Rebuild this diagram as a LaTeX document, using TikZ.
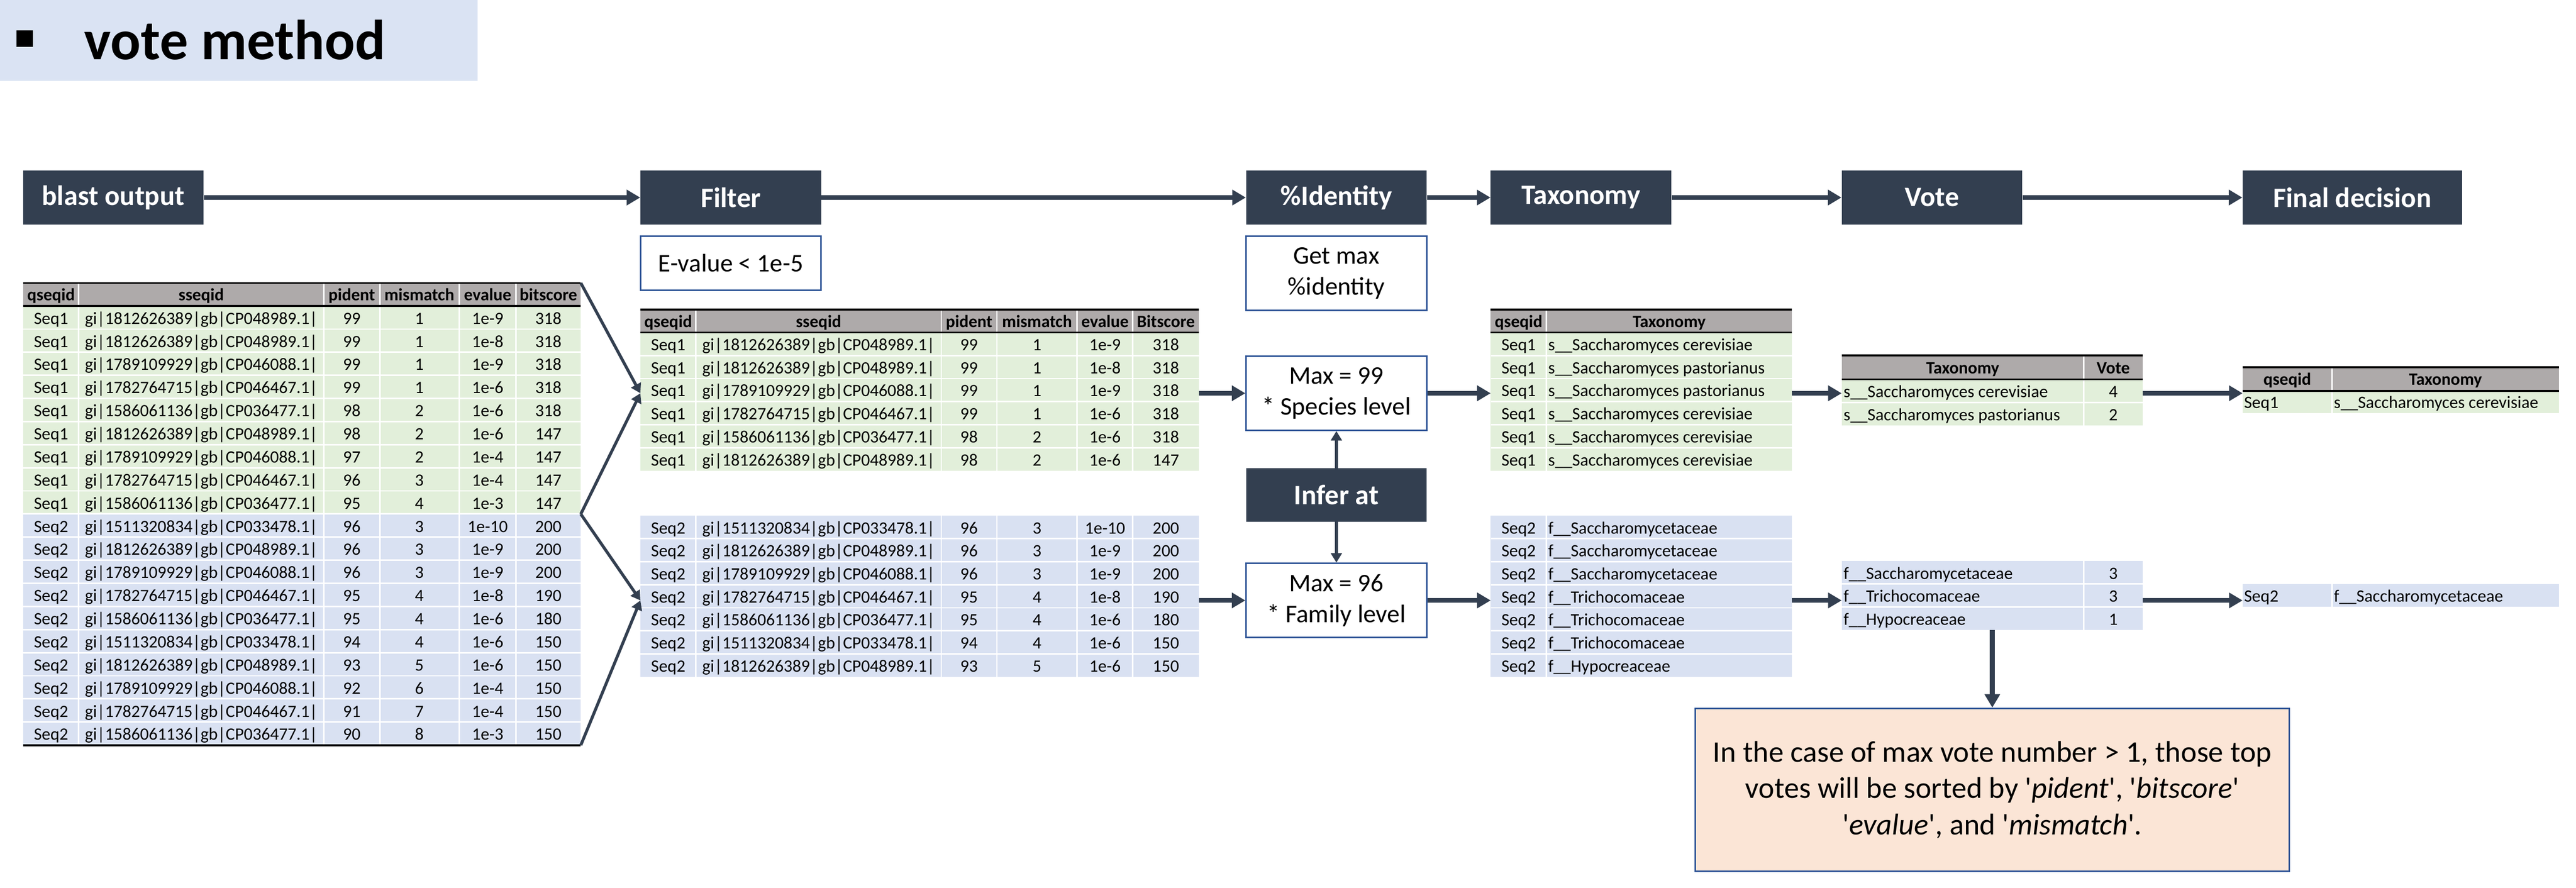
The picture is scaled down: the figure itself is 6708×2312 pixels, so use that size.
\documentclass[tikz,border=0pt]{standalone}
\usepackage{fontspec}
\setmainfont{Carlito}
\usepackage{tikz}
\usetikzlibrary{arrows.meta,positioning}

\definecolor{navy}{HTML}{333F50}
\definecolor{boxblue}{HTML}{2F5597}
\definecolor{rowgreen}{HTML}{E2EFDA}
\definecolor{rowblue}{HTML}{D9E1F2}
\definecolor{headgray}{HTML}{AEAAAA}
\definecolor{titleblue}{HTML}{DAE3F3}
\definecolor{notepeach}{HTML}{FBE5D6}

\newcommand{\tabfont}{\fontsize{12.8}{15}\selectfont}
\newcommand{\tq}{\textquotesingle}

\begin{document}
\begin{tikzpicture}[x=0.01cm, y=-0.01cm,
    headbox/.style={rectangle, fill=navy, text=white, minimum width=4.7cm,
      minimum height=1.41cm, inner sep=0pt, font=\bfseries\fontsize{20.8}{25}\selectfont},
    notebox/.style={rectangle, draw=boxblue, line width=1.1pt, fill=white,
      minimum width=4.7cm, inner sep=0pt, align=center, font=\fontsize{18.8}{22.8}\selectfont},
    flow/.style={draw=navy, line width=3.5pt, -{Triangle[length=10pt,width=11pt]}},
    thinflow/.style={draw=navy, line width=2.2pt, -{Triangle[length=7pt,width=8pt]}},
    block/.style={rectangle, inner sep=0pt, outer sep=0pt},
    gap/.style={draw=white, line width=1.1pt},
    rule/.style={draw=black, line width=1.4pt},
    cell/.style={anchor=base, inner sep=0pt, font=\tabfont},
    lcell/.style={cell, anchor=base west},
    hcell/.style={cell, font=\tabfont\bfseries}]

  \useasboundingbox (0,0) rectangle (6708,2312);

  % title
  \fill[titleblue] (0,0) rectangle (1244,211);
  \node[block, fill=black, minimum size=0.43cm] (bullet) at (64,100) {};
  \node[anchor=base west, inner sep=0pt, font=\bfseries\fontsize{41.8}{50}\selectfont]
    (title) at (219,155) {vote method};

  % Define nodes
  \node[headbox]                       (blast)  at (295,514.5)    {blast output};
  \node[headbox]                       (filter) at (1903,514.5)   {Filter};
  \node[headbox]                       (ident)  at (3480,514.5)   {\%Identity};
  \node[headbox]                       (taxo)   at (4117,514.5)   {Taxonomy};
  \node[headbox]                       (vote)   at (5031,514.5)   {Vote};
  \node[headbox, minimum width=5.71cm] (final)  at (6125.5,514.5) {Final decision};

  \node[notebox, minimum height=1.41cm, below=0.27cm of filter] (evalue) {E-value < 1e-5};
  \node[notebox, minimum height=1.94cm, below=0.27cm of ident]  (getmax) {Get max\\\%identity};
  \node[notebox, minimum height=1.93cm, below=1.15cm of getmax] (max99)  {Max = 99\\* Species level};
  \node[headbox, minimum height=1.39cm, below=0.96cm of max99]  (infer)  {Infer at};
  \node[notebox, minimum height=1.93cm, below=1.06cm of infer]  (max96)  {Max = 96\\* Family level};

  % blast output table
  \node[block, fill=headgray, minimum width=14.51cm, minimum height=0.6cm]   (lth) at (786.5,767) {};
  \node[block, fill=rowgreen, minimum width=14.51cm, minimum height=5.418cm] (lt1) at (786.5,1067.9) {};
  \node[block, fill=rowblue,  minimum width=14.51cm, minimum height=6.02cm]  (lt2) at (786.5,1639.8) {};
  \foreach \x in {205,843,989,1196,1344}
    \draw[gap] (\x,737) -- (\x,1941);
  \foreach \i in {1,...,18}
    \draw[gap] (61,{797+60.2*\i}) -- (1512,{797+60.2*\i});
  \draw[rule] (lth.north west) -- (lth.north east);
  \draw[rule] (lth.south west) -- (lth.south east);
  \draw[rule] (lt2.south west) -- (lt2.south east);
  \foreach \hd/\x in {qseqid/133,sseqid/524,pident/916,mismatch/1092,evalue/1270,bitscore/1428}
    \node[hcell] (lth-\hd) at (\x,783) {\hd};
  \foreach \sid/\pid/\mm/\ev/\bsc [count=\i] in {
      gi|1812626389|gb|CP048989.1|/99/1/1e-9/318,
      gi|1812626389|gb|CP048989.1|/99/1/1e-8/318,
      gi|1789109929|gb|CP046088.1|/99/1/1e-9/318,
      gi|1782764715|gb|CP046467.1|/99/1/1e-6/318,
      gi|1586061136|gb|CP036477.1|/98/2/1e-6/318,
      gi|1812626389|gb|CP048989.1|/98/2/1e-6/147,
      gi|1789109929|gb|CP046088.1|/97/2/1e-4/147,
      gi|1782764715|gb|CP046467.1|/96/3/1e-4/147,
      gi|1586061136|gb|CP036477.1|/95/4/1e-3/147,
      gi|1511320834|gb|CP033478.1|/96/3/1e-10/200,
      gi|1812626389|gb|CP048989.1|/96/3/1e-9/200,
      gi|1789109929|gb|CP046088.1|/96/3/1e-9/200,
      gi|1782764715|gb|CP046467.1|/95/4/1e-8/190,
      gi|1586061136|gb|CP036477.1|/95/4/1e-6/180,
      gi|1511320834|gb|CP033478.1|/94/4/1e-6/150,
      gi|1812626389|gb|CP048989.1|/93/5/1e-6/150,
      gi|1789109929|gb|CP046088.1|/92/6/1e-4/150,
      gi|1782764715|gb|CP046467.1|/91/7/1e-4/150,
      gi|1586061136|gb|CP036477.1|/90/8/1e-3/150}{
    \pgfmathsetmacro{\yy}{797+60.2*\i-13}
    \node[cell] (lt-\i-q) at (133,\yy)  {\ifnum\i<10 Seq1\else Seq2\fi};
    \node[cell] (lt-\i-s) at (524,\yy)  {\sid};
    \node[cell] (lt-\i-p) at (916,\yy)  {\pid};
    \node[cell] (lt-\i-m) at (1092,\yy) {\mm};
    \node[cell] (lt-\i-e) at (1270,\yy) {\ev};
    \node[cell] (lt-\i-b) at (1428,\yy) {\bsc};
  }

  % filtered table
  \node[block, fill=headgray, minimum width=14.54cm, minimum height=0.6cm] (mth) at (2395,836) {};
  \node[block, fill=rowgreen, minimum width=14.54cm, minimum height=3.6cm] (mt1) at (2395,1046) {};
  \node[block, fill=rowblue,  minimum width=14.54cm, minimum height=4.2cm] (mt2) at (2395,1553) {};
  \foreach \x in {1812,2451,2596,2805,2950}
    \draw[gap] (\x,806) -- (\x,1763);
  \foreach \i in {1,...,5}
    \draw[gap] (1668,{866+60*\i}) -- (3122,{866+60*\i});
  \foreach \i in {1,...,6}
    \draw[gap] (1668,{1343+60*\i}) -- (3122,{1343+60*\i});
  \draw[rule] (mth.north west) -- (mth.north east);
  \draw[rule] (mth.south west) -- (mth.south east);
  \foreach \hd/\x in {qseqid/1740,sseqid/2131.5,pident/2523.5,mismatch/2700.5,evalue/2877.5,Bitscore/3036}
    \node[hcell] (mth-\hd) at (\x,852) {\hd};
  \foreach \sid/\pid/\mm/\ev/\bsc [count=\i] in {
      gi|1812626389|gb|CP048989.1|/99/1/1e-9/318,
      gi|1812626389|gb|CP048989.1|/99/1/1e-8/318,
      gi|1789109929|gb|CP046088.1|/99/1/1e-9/318,
      gi|1782764715|gb|CP046467.1|/99/1/1e-6/318,
      gi|1586061136|gb|CP036477.1|/98/2/1e-6/318,
      gi|1812626389|gb|CP048989.1|/98/2/1e-6/147}{
    \pgfmathsetmacro{\yy}{866+60*\i-13}
    \node[cell] (mt1-\i-q) at (1740,\yy)   {Seq1};
    \node[cell] (mt1-\i-s) at (2131.5,\yy) {\sid};
    \node[cell] (mt1-\i-p) at (2523.5,\yy) {\pid};
    \node[cell] (mt1-\i-m) at (2700.5,\yy) {\mm};
    \node[cell] (mt1-\i-e) at (2877.5,\yy) {\ev};
    \node[cell] (mt1-\i-b) at (3036,\yy)   {\bsc};
  }
  \foreach \sid/\pid/\mm/\ev/\bsc [count=\i] in {
      gi|1511320834|gb|CP033478.1|/96/3/1e-10/200,
      gi|1812626389|gb|CP048989.1|/96/3/1e-9/200,
      gi|1789109929|gb|CP046088.1|/96/3/1e-9/200,
      gi|1782764715|gb|CP046467.1|/95/4/1e-8/190,
      gi|1586061136|gb|CP036477.1|/95/4/1e-6/180,
      gi|1511320834|gb|CP033478.1|/94/4/1e-6/150,
      gi|1812626389|gb|CP048989.1|/93/5/1e-6/150}{
    \pgfmathsetmacro{\yy}{1343+60*\i-13}
    \node[cell] (mt2-\i-q) at (1740,\yy)   {Seq2};
    \node[cell] (mt2-\i-s) at (2131.5,\yy) {\sid};
    \node[cell] (mt2-\i-p) at (2523.5,\yy) {\pid};
    \node[cell] (mt2-\i-m) at (2700.5,\yy) {\mm};
    \node[cell] (mt2-\i-e) at (2877.5,\yy) {\ev};
    \node[cell] (mt2-\i-b) at (3036,\yy)   {\bsc};
  }

  % taxonomy table
  \node[block, fill=headgray, minimum width=7.84cm, minimum height=0.6cm] (tth) at (4274,836) {};
  \node[block, fill=rowgreen, minimum width=7.84cm, minimum height=3.6cm] (tt1) at (4274,1046) {};
  \node[block, fill=rowblue,  minimum width=7.84cm, minimum height=4.2cm] (tt2) at (4274,1553) {};
  \draw[gap] (4027,806) -- (4027,1763);
  \foreach \i in {1,...,5}
    \draw[gap] (3882,{866+60*\i}) -- (4666,{866+60*\i});
  \foreach \i in {1,...,6}
    \draw[gap] (3882,{1343+60*\i}) -- (4666,{1343+60*\i});
  \draw[rule] (tth.north west) -- (tth.north east);
  \draw[rule] (tth.south west) -- (tth.south east);
  \node[hcell] (tth-q) at (3954.5,852) {qseqid};
  \node[hcell] (tth-t) at (4346.5,852) {Taxonomy};
  \foreach \sp [count=\i] in {cerevisiae,pastorianus,pastorianus,cerevisiae,cerevisiae,cerevisiae}{
    \pgfmathsetmacro{\yy}{866+60*\i-13}
    \node[cell]  (tt1-\i-q) at (3954.5,\yy) {Seq1};
    \node[lcell] (tt1-\i-t) at (4031,\yy)   {s\_\_Saccharomyces \sp};
  }
  \foreach \fam [count=\i] in {Saccharomycetaceae,Saccharomycetaceae,Saccharomycetaceae,
      Trichocomaceae,Trichocomaceae,Trichocomaceae,Hypocreaceae}{
    \pgfmathsetmacro{\yy}{1343+60*\i-13}
    \node[cell]  (tt2-\i-q) at (3954.5,\yy) {Seq2};
    \node[lcell] (tt2-\i-t) at (4031,\yy)   {f\_\_\fam};
  }

  % vote table
  \node[block, fill=headgray, minimum width=7.84cm, minimum height=0.62cm] (vth) at (5188,957) {};
  \node[block, fill=rowgreen, minimum width=7.84cm, minimum height=1.2cm]  (vt1) at (5188,1048) {};
  \node[block, fill=rowblue,  minimum width=7.84cm, minimum height=1.8cm]  (vt2) at (5188,1551) {};
  \draw[gap] (5426,926) -- (5426,1641);
  \foreach \y in {1048,1521,1581}
    \draw[gap] (4796,\y) -- (5580,\y);
  \draw[rule] (vth.north west) -- (vth.north east);
  \draw[rule] (vth.south west) -- (vth.south east);
  \node[hcell] (vth-t) at (5111,973) {Taxonomy};
  \node[hcell] (vth-v) at (5503,973) {Vote};
  \foreach \tx/\n [count=\i] in {s\_\_Saccharomyces cerevisiae/4,s\_\_Saccharomyces pastorianus/2}{
    \pgfmathsetmacro{\yy}{988+60*\i-13}
    \node[lcell] (vt1-\i-t) at (4800,\yy) {\tx};
    \node[cell]  (vt1-\i-v) at (5503,\yy) {\n};
  }
  \foreach \tx/\n [count=\i] in {f\_\_Saccharomycetaceae/3,f\_\_Trichocomaceae/3,f\_\_Hypocreaceae/1}{
    \pgfmathsetmacro{\yy}{1461+60*\i-13}
    \node[lcell] (vt2-\i-t) at (4800,\yy) {\tx};
    \node[cell]  (vt2-\i-v) at (5503,\yy) {\n};
  }

  % final decision table
  \node[block, fill=headgray, minimum width=8.24cm, minimum height=0.61cm] (fth) at (6252,987.5) {};
  \node[block, fill=rowgreen, minimum width=8.24cm, minimum height=0.58cm] (ft1) at (6252,1047) {};
  \node[block, fill=rowblue,  minimum width=8.24cm, minimum height=0.59cm] (ft2) at (6252,1550.5) {};
  \draw[gap] (6073,957) -- (6073,1580);
  \draw[rule] (fth.north west) -- (fth.north east);
  \draw[rule] (fth.south west) -- (fth.south east);
  \node[hcell]  (fth-q)  at (5956,1003) {qseqid};
  \node[hcell]  (fth-t)  at (6368,1003) {Taxonomy};
  \node[lcell]  (ft1-q)  at (5843,1063) {Seq1};
  \node[lcell]  (ft1-t)  at (6077,1063) {s\_\_Saccharomyces cerevisiae};
  \node[lcell]  (ft2-q)  at (5843,1567) {Seq2};
  \node[lcell]  (ft2-t)  at (6077,1567) {f\_\_Saccharomycetaceae};

  \node[notebox, fill=notepeach, minimum width=15.46cm, minimum height=4.24cm,
    font=\fontsize{22.2}{27}\selectfont, below=2.02cm of vt2] (note)
    {In the case of max vote number > 1, those top\\
     votes will be sorted by \tq\textit{pident}\tq, \tq\textit{bitscore}\tq\\
     \tq\textit{evalue}\tq, and \tq\textit{mismatch}\tq.};

  % Define edges
  \draw[flow] (blast) -- (filter);
  \draw[flow] (filter) -- (ident);
  \draw[flow] (ident) -- (taxo);
  \draw[flow] (taxo) -- (vote);
  \draw[flow] (vote) -- (final);

  \draw[thinflow] (lth.north east) -- (mt1.west |- max99.west);
  \draw[thinflow] (lt1.south east) -- (mt1.west |- max99.west);
  \draw[thinflow] (lt1.south east) -- (mt2.west |- max96.west);
  \draw[thinflow] (lt2.south east) -- (mt2.west |- max96.west);

  \draw[flow] (mt1.east |- max99.west) -- (max99.west);
  \draw[flow] (mt2.east |- max96.west) -- (max96.west);
  \draw[flow] (max99.east) -- (tt1.west |- max99.east);
  \draw[flow] (max96.east) -- (tt2.west |- max96.east);
  \draw[flow] (tt1.east |- max99.east) -- (vt1.west |- max99.east);
  \draw[flow] (tt2.east |- max96.east) -- (vt2.west |- max96.east);
  \draw[flow] (vt1.east |- max99.east) -- (ft1.west |- max99.east);
  \draw[flow] (vt2.east |- max96.east) -- (ft2.west |- max96.east);

  \draw[thinflow] (infer) -- (max99);
  \draw[thinflow] (infer) -- (max96);
  \draw[flow] (vt2) -- (note);

\end{tikzpicture}
\end{document}
